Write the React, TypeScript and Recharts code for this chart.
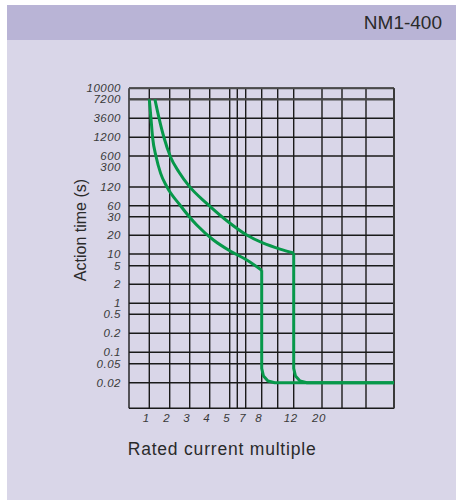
import React from 'react';
import { LineChart, Line, XAxis, YAxis, CartesianGrid, ReferenceLine } from 'recharts';

// ---- axis tick values and labels ----
const xTickValues = [0.5, 1, 2, 3, 4, 5, 6, 7, 8, 10, 12, 20, 30, 50, 100];
const xTickLabels = ['', '1', '2', '3', '4', '5', '', '7', '8', '', '12', '20', '', '', ''];
const yTickValues = [0.01, 0.02, 0.05, 0.1, 0.2, 0.5, 1, 2, 5, 10, 20, 30, 60, 120, 300, 600, 1200, 3600, 7200, 10000];
const yTickLabels = ['', '0.02', '0.05', '0.1', '0.2', '0.5', '1', '2', '5', '10', '20', '30', '60', '120', '300', '600', '1200', '3600', '7200', '10000'];
const yNoGridLine = [300];

// ---- schematic axis layout (the printed grid is non-uniform) ----
const xAxisSlots = [0, 20.3, 40.7, 60.7, 80.7, 100.7, 108.3, 116.7, 132.7, 148.7, 164.7, 193, 213, 237, 265];
const yAxisSlots = [0, 25.6, 44.6, 56, 75, 94, 105, 124, 142.6, 154.3, 173, 191.6, 202.6, 221.3, 241, 252.3, 271, 290, 309, 320];

// ---- curves: rated current multiple vs. action time (s) ----
// inverse-time (overload) part
const curve8Multiple = [1, 1.06, 1.12, 1.26, 1.47, 1.81, 2.46, 3.32, 4.17, 5.04, 7.06, 8];
const curve8Time = [7200, 3500, 1180, 575, 226, 122, 61.6, 25, 16.8, 11.2, 7.0, 4.0];
const curve12Multiple = [1.21, 1.4, 1.65, 2.03, 2.41, 2.99, 3.83, 5.04, 7.06, 8.18, 10.27, 12];
const curve12Time = [7200, 3500, 1180, 575, 241, 122, 65.5, 26, 20.1, 14.9, 12, 10.4];
// instantaneous (short-circuit) part
const trip8Multiple = [8, 8, 8.2, 8.73, 9.6, 100];
const trip8Time = [4.0, 0.04, 0.0276, 0.0217, 0.02, 0.02];
const trip12Multiple = [12, 12, 12.39, 13.45, 15.25, 100];
const trip12Time = [10.4, 0.04, 0.0276, 0.0217, 0.02, 0.02];

const GREEN = '#07984a';
const TEXT = '#2a2a2a';
const FONT = '"Liberation Sans", Arial, Helvetica, sans-serif';

function toSlot(v: number, values: number[], slots: number[]): number {
  if (v <= values[0]) return slots[0];
  for (let i = 0; i < values.length - 1; i++) {
    const a = values[i];
    const b = values[i + 1];
    if (v >= a && v <= b) {
      const t = Math.log(v / a) / Math.log(b / a);
      return slots[i] + t * (slots[i + 1] - slots[i]);
    }
  }
  return slots[slots.length - 1];
}

const buildCurve = (ms: number[], ts: number[]) =>
  ms.map((m, i) => ({
    x: toSlot(m, xTickValues, xAxisSlots),
    y: toSlot(ts[i], yTickValues, yAxisSlots),
  }));

const curve8 = buildCurve(curve8Multiple, curve8Time);
const curve12 = buildCurve(curve12Multiple, curve12Time);
const trip8 = buildCurve(trip8Multiple, trip8Time);
const trip12 = buildCurve(trip12Multiple, trip12Time);

const xLabelMap = new Map<number, string>();
xAxisSlots.forEach((s, i) => xLabelMap.set(s, xTickLabels[i]));
const yLabelMap = new Map<number, string>();
yAxisSlots.forEach((s, i) => yLabelMap.set(s, yTickLabels[i]));

const xTicks = xAxisSlots.filter((_, i) => xTickLabels[i] !== '');
const yTicks = yAxisSlots.filter((_, i) => yTickLabels[i] !== '');
const yGrid = yAxisSlots.filter((_, i) => !yNoGridLine.includes(yTickValues[i]));
const slot7200 = toSlot(7200, yTickValues, yAxisSlots);

const tickStyle = { fontSize: 11.5, fontStyle: 'italic', fill: '#3a3a3a', fontFamily: FONT, letterSpacing: 0.5 };

const lineCommon = {
  dataKey: 'y',
  stroke: GREEN,
  strokeWidth: 3,
  dot: false,
  strokeLinejoin: 'round' as const,
  isAnimationActive: false,
};

export default function App() {
  return (
    <div
      style={{
        position: 'absolute',
        left: 0,
        top: 0,
        width: 456,
        height: 500,
        background: '#ffffff',
        fontFamily: FONT,
        overflow: 'hidden',
      }}
    >
      <div style={{ position: 'absolute', left: 7, top: 5, width: 449, height: 495, background: '#d9d6e8' }} />
      <div style={{ position: 'absolute', left: 7, top: 5, width: 449, height: 35, background: '#b9b4d6' }} />
      <div
        style={{
          position: 'absolute',
          right: 14,
          top: 13,
          fontSize: 19,
          lineHeight: '19px',
          color: TEXT,
          whiteSpace: 'nowrap',
        }}
      >
        NM1-400
      </div>
      <div style={{ position: 'absolute', left: 0, top: 0 }}>
        <LineChart width={456} height={500} margin={{ top: 88.3, right: 62, bottom: 61.7, left: 69 }}>
          <CartesianGrid
            stroke="#1a1a1a"
            strokeWidth={1.4}
            verticalValues={xAxisSlots}
            horizontalValues={yGrid}
          />
          <XAxis
            type="number"
            dataKey="x"
            domain={[0, 265]}
            allowDataOverflow
            ticks={xTicks}
            interval={0}
            height={30}
            tickLine={false}
            axisLine={false}
            tickSize={4}
            tickMargin={2}
            tickFormatter={(v: number) => xLabelMap.get(v) ?? ''}
            tick={{ ...tickStyle, dx: -3 }}
          />
          <YAxis
            type="number"
            dataKey="y"
            domain={[0, 320]}
            allowDataOverflow
            ticks={yTicks}
            interval={0}
            width={60}
            tickLine={false}
            axisLine={false}
            tickSize={4}
            tickMargin={4}
            tickFormatter={(v: number) => yLabelMap.get(v) ?? ''}
            tick={tickStyle}
          />
          <ReferenceLine y={slot7200} stroke="#4a4a4a" strokeWidth={2.2} />
          <ReferenceLine y={320} stroke="#4a4a4a" strokeWidth={2} />
          <ReferenceLine x={265} stroke="#3a3a3a" strokeWidth={2} />
          <Line data={curve8} type="monotone" {...lineCommon} />
          <Line data={curve12} type="monotone" {...lineCommon} />
          <Line data={trip8} type="linear" {...lineCommon} />
          <Line data={trip12} type="linear" {...lineCommon} />
        </LineChart>
      </div>
      <div
        style={{
          position: 'absolute',
          left: 21,
          top: 220,
          width: 120,
          height: 20,
          lineHeight: '20px',
          fontSize: 16,
          textAlign: 'center',
          color: TEXT,
          transform: 'rotate(-90deg)',
          whiteSpace: 'nowrap',
        }}
      >
        Action time (s)
      </div>
      <div
        style={{
          position: 'absolute',
          left: 127.7,
          top: 440.6,
          fontSize: 17.5,
          lineHeight: '17.5px',
          letterSpacing: 0.8,
          color: TEXT,
          whiteSpace: 'nowrap',
        }}
      >
        Rated current multiple
      </div>
    </div>
  );
}
